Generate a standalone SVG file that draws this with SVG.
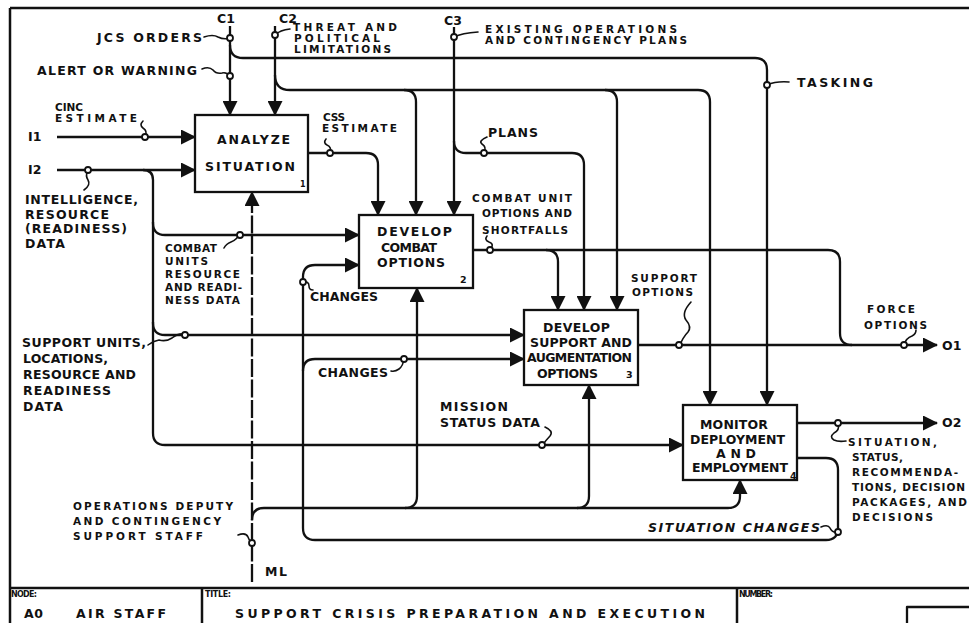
<svg xmlns="http://www.w3.org/2000/svg" width="969" height="623" viewBox="0 0 969 623">
  <style>
    text { font-family: "DejaVu Sans", "Liberation Sans", sans-serif; font-weight: bold; font-size: 12.5px; fill: #111; }
    .s { font-size: 10.5px; }
    .xs { font-size: 8px; }
    .n { font-size: 9.5px; }
    .it { font-style: italic; }
    .frame { fill: none; stroke: #111; stroke-width: 2.5; }
    .box { fill: #fff; stroke: #111; stroke-width: 2.3; }
    .ln { fill: none; stroke: #111; stroke-width: 2.3; stroke-linejoin: round; }
    .arr { marker-end: url(#ah); }
    .dash { stroke-dasharray: 18 2.5; }
    .sq { fill: none; stroke: #111; stroke-width: 1.6; stroke-linecap: round; }
    .dot { fill: #fff; stroke: #111; stroke-width: 1.8; }
  </style>
  <defs>
    <marker id="ah" markerUnits="userSpaceOnUse" markerWidth="15" markerHeight="15" refX="14" refY="7.5" orient="auto">
      <path d="M0,0 L15,7.5 L0,15 z" fill="#111"/>
    </marker>
  </defs>
  <rect width="969" height="623" fill="#fff"/>

  <!-- form border and footer -->
  <g id="frame">
    <path class="frame" d="M10 8 H969 M10 8 V623 M10 588 H969 M202 588 V623 M737 588 V623"/>
    <path class="ln" d="M907 623 V607 H969"/>
    <text class="xs" x="11" y="597" textLength="26" lengthAdjust="spacing">NODE:</text>
    <text class="xs" x="205" y="597" textLength="26" lengthAdjust="spacing">TITLE:</text>
    <text class="xs" x="739" y="597" textLength="34" lengthAdjust="spacing">NUMBER:</text>
    <text x="24" y="618" textLength="19" lengthAdjust="spacing">A0</text>
    <text x="76" y="618" textLength="90" lengthAdjust="spacing">AIR STAFF</text>
    <text x="235" y="618" textLength="470" lengthAdjust="spacing">SUPPORT CRISIS PREPARATION AND EXECUTION</text>
  </g>

  <!-- connectors -->
  <g id="connectors">
    <!-- controls -->
    <path class="ln arr" d="M230 26 V115"/>
    <path class="ln arr" d="M230 45 Q230 58 243 58 H755 Q767 58 767 70 V405"/>
    <path class="ln arr" d="M275 26 V115"/>
    <path class="ln arr" d="M275 75 Q275 90 290 90 H698 Q710 90 710 102 V405"/>
    <path class="ln arr" d="M404 90 Q416 90 416 102 V215"/>
    <path class="ln arr" d="M605 90 Q617 90 617 102 V310"/>
    <path class="ln arr" d="M454 27 V215"/>
    <path class="ln arr" d="M454 141 Q454 153 466 153 H572 Q584 153 584 165 V310"/>
    <!-- inputs -->
    <path class="ln arr" d="M57 137 H195"/>
    <path class="ln arr" d="M57 170 H195"/>
    <path class="ln arr" d="M143 170 Q153 170 153 180 V223 Q153 235 165 235 H359"/>
    <path class="ln arr" d="M153 222 V323 Q153 335 165 335 H524"/>
    <path class="ln arr" d="M153 322 V433 Q153 445 165 445 H683"/>
    <!-- box-to-box flows -->
    <path class="ln arr" d="M308 153 H366 Q378 153 378 165 V215"/>
    <path class="ln" d="M473 250 H828 Q840 250 840 262 V333 Q840 345 852 345"/>
    <path class="ln arr" d="M546 250 Q558 250 558 262 V310"/>
    <path class="ln arr" d="M638 345 H937"/>
    <path class="ln arr" d="M797 423 H937"/>
    <path class="ln arr" d="M797 458 H826 Q838 458 838 470 V528 Q838 540 826 540 H315 Q303 540 303 528 V277 Q303 265 315 265 H359"/>
    <path class="ln arr" d="M303 371 Q303 359 315 359 H524"/>
    <!-- mechanisms -->
    <path class="ln arr dash" d="M252 582 V192"/>
    <path class="ln arr" d="M252 520 Q252 508 264 508 H728 Q740 508 740 496 V480"/>
    <path class="ln arr" d="M405 508 Q417 508 417 496 V288"/>
    <path class="ln arr" d="M577 508 Q589 508 589 496 V385"/>

    <!-- label leaders -->
    <path class="sq" d="M204 37 Q213 34 218 37 Q224 40 230 38"/>
    <path class="sq" d="M202 69 Q209 66 213 70 Q216 74 222 73 Q227 72 230 76"/>
    <path class="sq" d="M275 35 Q280 30 290 29"/>
    <path class="sq" d="M454 37 Q462 33 478 32"/>
    <path class="sq" d="M767 85 Q776 81 789 82"/>
    <path class="sq" d="M145 137 Q148 131 143 128 Q139 125 143 121"/>
    <path class="sq" d="M88 170 Q85 176 88 180 Q91 185 84 190"/>
    <path class="sq" d="M330 153 Q332 147 327 145 Q323 143 326 139"/>
    <path class="sq" d="M484 153 Q487 147 482 144 Q478 141 487 137"/>
    <path class="sq" d="M490 250 Q495 244 489 242 Q484 240 487 236"/>
    <path class="sq" d="M240 233 Q237 240 231 242 Q226 244 224 248"/>
    <path class="sq" d="M185 334 Q178 333 172 338 Q166 342 159 340 Q153 341 148 345"/>
    <path class="sq" d="M303 282 Q309 281 309 286 Q309 290 313 290"/>
    <path class="sq" d="M404 359 Q403 366 399 369 Q395 372 391 371"/>
    <path class="sq" d="M679 347 Q683 337 688 332 Q692 327 686 320 Q681 313 691 302"/>
    <path class="sq" d="M904 345 Q906 338 912 336 Q916 334 916 330"/>
    <path class="sq" d="M542 446 Q546 440 550 436 Q554 431 545 427"/>
    <path class="sq" d="M838 424 Q840 430 834 433 Q829 437 834 440 Q838 442 846 441"/>
    <path class="sq" d="M821 527 Q828 524 830 528 Q832 533 838 532"/>
    <path class="sq" d="M238 535 Q246 532 248 537 Q250 542 252 543"/>

    <!-- join points -->
    <circle class="dot" cx="230" cy="38" r="3"/>
    <circle class="dot" cx="230" cy="76" r="3"/>
    <circle class="dot" cx="275" cy="35" r="3"/>
    <circle class="dot" cx="454" cy="37" r="3"/>
    <circle class="dot" cx="767" cy="85" r="3"/>
    <circle class="dot" cx="145" cy="137" r="3"/>
    <circle class="dot" cx="88" cy="170" r="3"/>
    <circle class="dot" cx="330" cy="153" r="3"/>
    <circle class="dot" cx="484" cy="153" r="3"/>
    <circle class="dot" cx="490" cy="250" r="3"/>
    <circle class="dot" cx="240" cy="235" r="3"/>
    <circle class="dot" cx="185" cy="335" r="3"/>
    <circle class="dot" cx="303" cy="282" r="3"/>
    <circle class="dot" cx="404" cy="359" r="3"/>
    <circle class="dot" cx="679" cy="345" r="3"/>
    <circle class="dot" cx="904" cy="345" r="3"/>
    <circle class="dot" cx="542" cy="445" r="3"/>
    <circle class="dot" cx="838" cy="423" r="3"/>
    <circle class="dot" cx="838" cy="532" r="3"/>
    <circle class="dot" cx="252" cy="543" r="3"/>
  </g>

  <!-- arrow labels -->
  <g id="labels">
    <text x="217" y="23">C1</text>
    <text x="279" y="23">C2</text>
    <text x="444" y="25">C3</text>
    <text x="97" y="42" textLength="105" lengthAdjust="spacing">JCS ORDERS</text>
    <text x="37" y="75" textLength="160" lengthAdjust="spacing">ALERT OR WARNING</text>
    <text class="s" x="293" y="31" textLength="104" lengthAdjust="spacing">THREAT AND</text>
    <text class="s" x="294" y="42" textLength="86" lengthAdjust="spacing">POLITICAL</text>
    <text class="s" x="294" y="53" textLength="97" lengthAdjust="spacing">LIMITATIONS</text>
    <text class="s" x="485" y="33" textLength="192" lengthAdjust="spacing">EXISTING OPERATIONS</text>
    <text class="s" x="485" y="44" textLength="202" lengthAdjust="spacing">AND CONTINGENCY PLANS</text>
    <text x="797" y="87" textLength="76" lengthAdjust="spacing">TASKING</text>
    <text class="s" x="55" y="111" textLength="28" lengthAdjust="spacing">CINC</text>
    <text class="s" x="55" y="122" textLength="82" lengthAdjust="spacing">ESTIMATE</text>
    <text x="28" y="141">I1</text>
    <text x="28" y="174">I2</text>
    <text x="25" y="204" textLength="113" lengthAdjust="spacing">INTELLIGENCE,</text>
    <text x="25" y="219" textLength="84" lengthAdjust="spacing">RESOURCE</text>
    <text x="25" y="233" textLength="102" lengthAdjust="spacing">(READINESS)</text>
    <text x="25" y="248" textLength="40" lengthAdjust="spacing">DATA</text>
    <text class="s" x="323" y="121" textLength="22" lengthAdjust="spacing">CSS</text>
    <text class="s" x="322" y="132" textLength="75" lengthAdjust="spacing">ESTIMATE</text>
    <text x="488" y="137" textLength="50" lengthAdjust="spacing">PLANS</text>
    <text class="s" x="472" y="202" textLength="100" lengthAdjust="spacing">COMBAT UNIT</text>
    <text class="s" x="482" y="217" textLength="90" lengthAdjust="spacing">OPTIONS AND</text>
    <text class="s" x="482" y="234" textLength="86" lengthAdjust="spacing">SHORTFALLS</text>
    <text class="s" x="165" y="252" textLength="52" lengthAdjust="spacing">COMBAT</text>
    <text class="s" x="165" y="265" textLength="43" lengthAdjust="spacing">UNITS</text>
    <text class="s" x="165" y="278" textLength="75" lengthAdjust="spacing">RESOURCE</text>
    <text class="s" x="165" y="291" textLength="77" lengthAdjust="spacing">AND READI-</text>
    <text class="s" x="165" y="304" textLength="75" lengthAdjust="spacing">NESS DATA</text>
    <text x="310" y="301" textLength="68" lengthAdjust="spacing">CHANGES</text>
    <text x="22" y="347" textLength="124" lengthAdjust="spacing">SUPPORT UNITS,</text>
    <text x="23" y="363" textLength="85" lengthAdjust="spacing">LOCATIONS,</text>
    <text x="23" y="379" textLength="113" lengthAdjust="spacing">RESOURCE AND</text>
    <text x="23" y="395" textLength="88" lengthAdjust="spacing">READINESS</text>
    <text x="23" y="411" textLength="40" lengthAdjust="spacing">DATA</text>
    <text x="318" y="377" textLength="70" lengthAdjust="spacing">CHANGES</text>
    <text class="s" x="631" y="282" textLength="66" lengthAdjust="spacing">SUPPORT</text>
    <text class="s" x="632" y="296" textLength="61" lengthAdjust="spacing">OPTIONS</text>
    <text class="s" x="867" y="313" textLength="48" lengthAdjust="spacing">FORCE</text>
    <text class="s" x="864" y="329" textLength="63" lengthAdjust="spacing">OPTIONS</text>
    <text x="942" y="350">O1</text>
    <text x="942" y="427">O2</text>
    <text x="440" y="411" textLength="68" lengthAdjust="spacing">MISSION</text>
    <text x="440" y="427" textLength="100" lengthAdjust="spacing">STATUS DATA</text>
    <text class="s" x="848" y="446" textLength="89" lengthAdjust="spacing">SITUATION,</text>
    <text class="s" x="852" y="461" textLength="51" lengthAdjust="spacing">STATUS,</text>
    <text class="s" x="852" y="476" textLength="106" lengthAdjust="spacing">RECOMMENDA-</text>
    <text class="s" x="852" y="491" textLength="113" lengthAdjust="spacing">TIONS, DECISION</text>
    <text class="s" x="852" y="506" textLength="115" lengthAdjust="spacing">PACKAGES, AND</text>
    <text class="s" x="852" y="521" textLength="81" lengthAdjust="spacing">DECISIONS</text>
    <text class="it" x="648" y="532" textLength="172" lengthAdjust="spacing">SITUATION CHANGES</text>
    <text class="s" x="73" y="510" textLength="160" lengthAdjust="spacing">OPERATIONS DEPUTY</text>
    <text class="s" x="73" y="525" textLength="148" lengthAdjust="spacing">AND CONTINGENCY</text>
    <text class="s" x="73" y="540" textLength="130" lengthAdjust="spacing">SUPPORT STAFF</text>
    <text x="265" y="576" textLength="22" lengthAdjust="spacing">ML</text>
  </g>

  <!-- activity boxes -->
  <g id="a1-analyze-situation">
    <rect class="box" x="195" y="115" width="113" height="77"/>
    <text x="217" y="144" textLength="73" lengthAdjust="spacing">ANALYZE</text>
    <text x="205" y="171" textLength="90" lengthAdjust="spacing">SITUATION</text>
    <text class="xs" x="300" y="187">1</text>
  </g>
  <g id="a2-develop-combat-options">
    <rect class="box" x="359" y="215" width="114" height="73"/>
    <text x="377" y="236" textLength="75" lengthAdjust="spacing">DEVELOP</text>
    <text x="381" y="252" textLength="56" lengthAdjust="spacing">COMBAT</text>
    <text x="377" y="267" textLength="68" lengthAdjust="spacing">OPTIONS</text>
    <text class="n" x="460" y="283">2</text>
  </g>
  <g id="a3-develop-support-options">
    <rect class="box" x="524" y="310" width="114" height="75"/>
    <text x="543" y="332" textLength="67" lengthAdjust="spacing">DEVELOP</text>
    <text x="530" y="347" textLength="102" lengthAdjust="spacing">SUPPORT AND</text>
    <text x="527" y="362" textLength="105" lengthAdjust="spacing">AUGMENTATION</text>
    <text x="537" y="378" textLength="61" lengthAdjust="spacing">OPTIONS</text>
    <text class="n" x="626" y="378">3</text>
  </g>
  <g id="a4-monitor-deployment">
    <rect class="box" x="683" y="405" width="114" height="75"/>
    <text x="700" y="429" textLength="68" lengthAdjust="spacing">MONITOR</text>
    <text x="690" y="444" textLength="95" lengthAdjust="spacing">DEPLOYMENT</text>
    <text x="716" y="458" textLength="40" lengthAdjust="spacing">AND</text>
    <text x="692" y="472" textLength="96" lengthAdjust="spacing">EMPLOYMENT</text>
    <text class="n" x="790" y="479">4</text>
  </g>
</svg>
